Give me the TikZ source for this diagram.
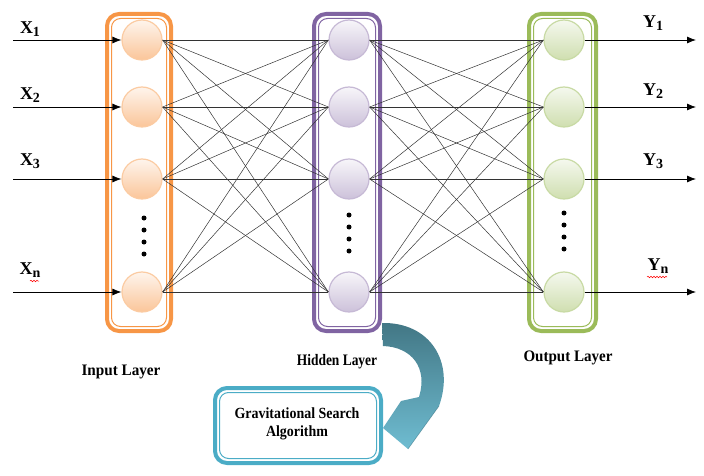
\documentclass[tikz,border=0pt]{standalone}
\usepackage{fontspec}
\setmainfont{Liberation Serif}
\usetikzlibrary{arrows.meta,decorations.pathmorphing}
\definecolor{orng}{HTML}{F79646}
\definecolor{purp}{HTML}{8064A2}
\definecolor{grn}{HTML}{9BBB59}
\definecolor{teal2}{HTML}{4BACC6}
\begin{document}
\begin{tikzpicture}[x=1pt,y=-1pt,
  neuron/.style={circle,minimum size=40pt,inner sep=0pt,line width=1.2pt},
  inN/.style={neuron,draw=orng!50,top color=orng!10,bottom color=orng!55},
  hidN/.style={neuron,draw=purp!45,top color=purp!6,bottom color=purp!40},
  outN/.style={neuron,draw=grn!55,top color=grn!10,bottom color=grn!48},
  conn/.style={draw=black!80,line width=0.5pt},
  io/.style={draw=black,line width=0.8pt,-{Latex[length=9pt,width=7pt]}},
  varlab/.style={font=\bfseries\fontsize{18}{18}\selectfont,inner sep=0pt},
  laylab/.style={font=\bfseries\fontsize{16}{18}\selectfont,inner sep=0pt},
  dotn/.style={circle,fill=black,minimum size=5pt,inner sep=0pt},
  wavy/.style={draw=red,line width=0.5pt,decorate,decoration={snake,amplitude=0.8pt,segment length=3pt}}
]
\useasboundingbox (0,0) rectangle (704,476);
% layer boxes
\foreach \xl/\xr/\c in {107/171/orng, 314/380/purp, 529/596/grn}{
  \draw[\c,line width=4pt,rounded corners=12pt] (\xl,14) rectangle (\xr,331);
  \draw[\c,line width=1pt,rounded corners=9pt] (\xl+4.5,18.5) rectangle (\xr-4.5,326.5);
}
% neurons
\foreach \n/\y in {1/40,2/107,3/179,4/292}{
  \node[inN] (i\n) at (142,\y) {};
  \node[hidN] (h\n) at (349,\y) {};
  \node[outN] (o\n) at (564,\y) {};
}
% dots
\foreach \y [count=\k] in {218,230,242,254}{
  \node[dotn] (di\k) at (144,\y) {};
  \node[dotn] (dh\k) at (349,\y-3) {};
  \node[dotn] (do\k) at (564,\y-5) {};
}
% connections
\foreach \a in {1,2,3,4}{
  \foreach \b in {1,2,3,4}{
    \draw[conn] (i\a.east) -- (h\b.west);
    \draw[conn] (h\a.east) -- (o\b.west);
  }
}
% input arrows and labels
\foreach \n/\y in {1/40,2/107,3/179,4/292}{
  \coordinate (xin\n) at (13,\y);
  \draw[io] (xin\n) -- (i\n.west);
  \coordinate (yout\n) at (696,\y);
  \draw[io] (o\n.east) -- (yout\n);
}
\node[varlab] (X1) at (30,29) {X\raisebox{-3pt}{\fontsize{14}{14}\selectfont 1}};
\node[varlab] (X2) at (30,95) {X\raisebox{-3pt}{\fontsize{14}{14}\selectfont 2}};
\node[varlab] (X3) at (30,161) {X\raisebox{-3pt}{\fontsize{14}{14}\selectfont 3}};
\node[varlab] (Xn) at (30,270) {X\raisebox{-3pt}{\fontsize{14}{14}\selectfont n}};
\node[varlab] (Y1) at (653,23) {Y\raisebox{-3pt}{\fontsize{14}{14}\selectfont 1}};
\node[varlab] (Y2) at (653,91) {Y\raisebox{-3pt}{\fontsize{14}{14}\selectfont 2}};
\node[varlab] (Y3) at (653,161) {Y\raisebox{-3pt}{\fontsize{14}{14}\selectfont 3}};
\node[varlab] (Yn) at (658,266) {Y\raisebox{-3pt}{\fontsize{14}{14}\selectfont n}};
\draw[wavy] (30,281) -- (39,281);
\draw[wavy] (647,277) -- (667,277);
% layer labels
\node[laylab] (Lin) at (121,372) {\scalebox{0.95}[1]{Input Layer}};
\node[laylab] (Lhid) at (337,362) {\scalebox{0.84}[1]{Hidden Layer}};
\node[laylab] (Lout) at (568,358) {\scalebox{0.94}[1]{Output Layer}};
% GSA box
\draw[teal2,line width=4pt,rounded corners=12pt] (215,388) rectangle (381,463);
\draw[teal2,line width=1pt,rounded corners=9pt] (219.5,392.5) rectangle (376.5,458.5);
\node[font=\bfseries\fontsize{15.5}{18.5}\selectfont,align=center] (gsa) at (297,424) {\scalebox{0.9}[1]{Gravitational Search}\\\scalebox{0.9}[1]{Algorithm}};
% curved arrow
\shade[top color=teal2!60!black!90,bottom color=teal2!80!white,shading angle=0]
  (382,323) .. controls (430,322) and (455,362) .. (439,406)
  -- (408,449) -- (383,428) -- (401,401) -- (419,397)
  .. controls (428,368) and (412,347) .. (383,346) -- cycle;
\draw[teal2!60!black,line width=0.6pt,opacity=0.5]
  (439,406) -- (408,449);
\end{tikzpicture}
\end{document}
